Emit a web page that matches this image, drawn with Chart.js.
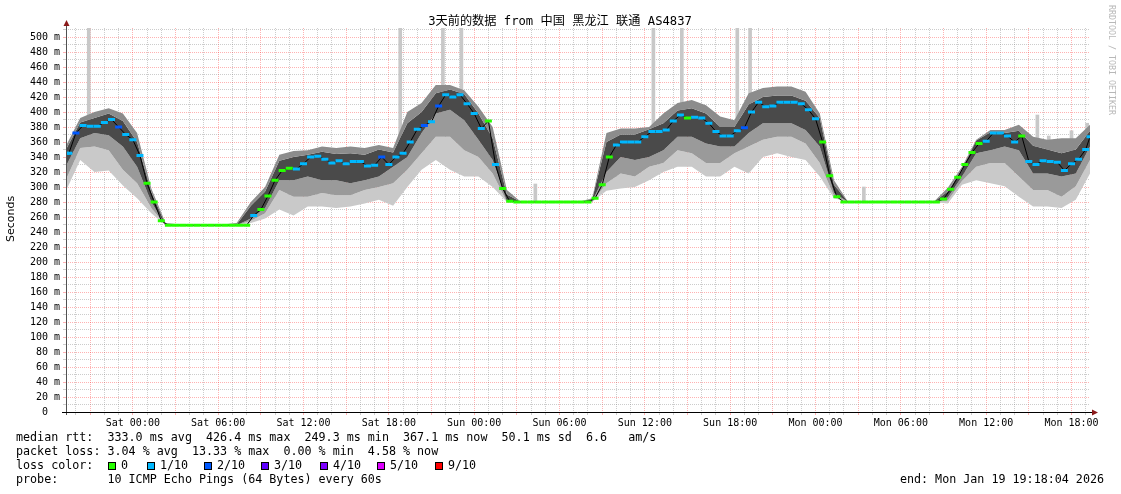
<!DOCTYPE html>
<html>
<head>
<meta charset="utf-8">
<title>SmokePing</title>
<script src="https://cdn.jsdelivr.net/npm/chart.js@4.4.1/dist/chart.umd.min.js"></script>
<style>
  html, body { margin: 0; padding: 0; background: #fff; }
  #wrap { width: 1121px; height: 494px; }
</style>
</head>
<body>
<div id="wrap"><canvas id="grafico" width="1121" height="494"></canvas></div>
<script>
// horas relativas a Sat 00:00 (início da janela = -4.7, fim = 67.3)
const tempoInicio = -4.7;
const tempoFim = 67.3;

// mediana a cada 30 min (primeiro e último ponto nas bordas da janela)
const medianaValores = [
  345,345,372,382,381,381,386,390,380,370,
  363,342,305,280,255,249,249,249,249,249,
  249,249,249,249,249,249,249,262,270,288,
  309,322,325,324,331,340,341,337,332,335,
  331,334,334,328,329,340,330,340,345,360,
  377,382,387,408,423,420,423,411,398,378,
  388,330,298,281,280,280,280,280,280,280,
  280,280,280,280,280,285,303,340,356,360,
  360,360,367,374,374,376,388,396,392,393,
  392,385,374,368,368,375,379,400,413,407,
  408,413,413,413,411,403,391,360,315,287,
  280,280,280,280,280,280,280,280,280,280,
  280,280,280,280,284,297,313,330,346,358,
  361,372,372,368,360,368,334,330,335,334,
  333,322,331,337,350,367
];
// perda por ponto (índice em corPerda)
const medianaPerda = [
  1,1,2,1,1,1,1,1,2,1,
  1,1,0,0,0,0,0,0,0,0,
  0,0,0,0,0,0,0,1,0,0,
  0,0,0,1,1,1,1,1,1,1,
  1,1,1,1,1,2,1,1,1,1,
  1,2,1,2,1,1,1,1,1,1,
  0,1,0,0,0,0,0,0,0,0,
  0,0,0,0,0,0,0,0,1,1,
  1,1,1,1,1,1,1,1,0,1,
  1,1,1,1,1,1,2,1,1,1,
  1,1,1,1,1,1,1,0,0,0,
  0,0,0,0,0,0,0,0,0,0,
  0,0,0,0,0,0,0,0,0,0,
  1,1,1,1,1,0,1,1,1,1,
  1,1,1,1,1,1
];

// fumaça (smoke) a cada hora, de -4.7 até 67.3
const fumacaMax = [355,392,400,405,398,372,298,252,250,250,250,250,252,280,300,343,348,349,354,352,354,352,356,352,400,412,436,436,429,407,380,296,280,280,280,280,280,285,372,378,378,380,398,412,416,409,394,389,425,432,434,434,427,398,309,280,280,280,280,280,280,280,299,327,363,376,376,383,367,363,365,365,383];
const fumacaAlta = [350,386,392,398,388,360,293,250,249,249,249,249,250,275,294,335,340,343,347,344,345,343,350,346,385,400,425,430,424,398,365,290,280,280,280,280,280,284,360,370,370,377,385,402,405,398,380,380,410,420,422,422,415,392,303,280,280,280,280,280,280,280,294,324,362,373,372,375,355,350,345,350,375];
const fumacaBaixa = [328,365,372,369,354,327,280,249,249,249,249,249,249,258,272,309,309,314,309,309,305,309,314,327,340,372,398,403,389,363,336,281,280,280,280,280,280,281,320,340,336,340,349,367,367,358,354,354,372,385,385,385,376,354,292,280,280,280,280,280,280,280,286,314,345,349,354,349,318,318,314,318,354];
const fumacaBaixa2 = [310,352,354,349,323,305,272,249,249,249,249,249,249,255,265,296,287,287,292,289,289,296,300,305,323,345,367,367,349,340,318,280,280,280,280,280,280,280,305,318,314,327,332,349,345,332,332,345,354,363,367,367,358,332,288,280,280,280,280,280,280,280,282,308,327,332,332,314,296,296,287,301,336];
const fumacaMin = [295,336,320,322,302,285,265,249,249,249,249,249,249,252,258,270,262,274,274,272,274,278,283,275,300,323,336,323,314,314,300,280,280,280,280,280,280,280,295,298,300,309,320,327,327,314,314,327,318,340,345,340,336,314,285,280,280,280,280,280,280,280,278,303,309,305,301,287,274,274,272,283,318];

// picos isolados (máximos)
const picoHoras = [-3.1, 18.8, 21.8, 23.1, 28.3, 36.6, 38.6, 42.5, 43.4, 51.4, 63.6, 64.4, 66.0, 67.1];
const picoBase  = [380, 340, 420, 420, 280, 374, 395, 375, 395, 280, 330, 334, 331, 350];
const picoTopo  = [512, 512, 512, 512, 304, 512, 512, 512, 512, 300, 396, 368, 375, 385];

// rótulos do eixo x
const horasRotulo = [0, 6, 12, 18, 24, 30, 36, 42, 48, 54, 60, 66];
const rotulosX = ['Sat 00:00','Sat 06:00','Sat 12:00','Sat 18:00','Sun 00:00','Sun 06:00',
                  'Sun 12:00','Sun 18:00','Mon 00:00','Mon 06:00','Mon 12:00','Mon 18:00'];

const corPerda = ['#26ff00', '#00b8ff', '#0059ff', '#5e00ff', '#7e00ff', '#dd00ff', '#ff0000'];
const rotulosPerda = ['0', '1/10', '2/10', '3/10', '4/10', '5/10', '9/10'];

const linhasTexto = [
  'median rtt:  333.0 ms avg  426.4 ms max  249.3 ms min  367.1 ms now  50.1 ms sd  6.6   am/s',
  'packet loss: 3.04 % avg  13.33 % max  0.00 % min  4.58 % now',
  'loss color:',
  'probe:       10 ICMP Echo Pings (64 Bytes) every 60s'
];
const titulo = '3天前的数据 from 中国 黑龙江 联通 AS4837';
const textoFim = 'end: Mon Jan 19 19:18:04 2026';

// montar pontos
const horasMediana = [tempoInicio];
for (let h = -4.5; h <= 67.0001; h += 0.5) horasMediana.push(h);
horasMediana.push(tempoFim);
const pontosMediana = medianaValores.map((v, i) => ({ x: horasMediana[i], y: v }));

const horasFumaca = fumacaMax.map((_, i) => tempoInicio + i);
const serie = arr => arr.map((v, i) => ({ x: horasFumaca[i], y: v }));

const horasGrade = [];
for (let h = -4; h <= 67; h++) horasGrade.push(h);
const valoresY = [];
for (let v = 0; v <= 510; v += 10) valoresY.push(v);

const GRADE_MAIOR = 'rgba(255,0,0,0.3)';
const GRADE_MENOR = 'rgba(128,128,128,0.4)';
const MONO = '"DejaVu Sans Mono", monospace';

const textoPlugin = {
  id: 'textoRrd',
  afterDraw(chart) {
    const c = chart.ctx;
    const a = chart.chartArea;
    c.save();

    // eixos
    c.lineWidth = 1;
    c.strokeStyle = '#505050';
    c.beginPath(); c.moveTo(a.left + 0.5, a.bottom + 3); c.lineTo(a.left + 0.5, 25); c.stroke();
    c.strokeStyle = '#000';
    c.beginPath(); c.moveTo(a.left - 4, a.bottom + 0.5); c.lineTo(1093, a.bottom + 0.5); c.stroke();
    c.fillStyle = '#8b1a1a';
    c.beginPath(); c.moveTo(a.left + 0.5, 20); c.lineTo(a.left - 2.5, 26); c.lineTo(a.left + 3.5, 26); c.closePath(); c.fill();
    c.beginPath(); c.moveTo(1098, a.bottom + 0.5); c.lineTo(1092, a.bottom - 2.5); c.lineTo(1092, a.bottom + 3.5); c.closePath(); c.fill();

    // título
    c.fillStyle = '#000';
    c.textBaseline = 'middle';
    c.textAlign = 'center';
    c.font = '12.2px "DejaVu Sans Mono", "Noto Sans CJK SC", monospace';
    c.fillText(titulo, 560, 22);

    // título do eixo y
    c.save();
    c.translate(11, 219);
    c.rotate(-Math.PI / 2);
    c.font = '11px "DejaVu Sans", sans-serif';
    c.fillText('Seconds', 0, 0);
    c.restore();

    // marca d'água
    c.save();
    c.translate(1111, 60);
    c.rotate(Math.PI / 2);
    c.fillStyle = '#b8b8b8';
    c.font = '8.3px ' + MONO;
    c.fillText('RRDTOOL / TOBI OETIKER', 0, 0);
    c.restore();

    // legenda
    c.textAlign = 'left';
    c.font = '11.7px ' + MONO;
    const ys = [438, 452, 466, 480];
    linhasTexto.forEach((t, i) => c.fillText(t, 16, ys[i]));
    const xsQuadrado = [108, 147, 204, 261, 320, 377, 435];
    corPerda.forEach((cor, i) => {
      const x = xsQuadrado[i];
      c.fillStyle = cor;
      c.fillRect(x, 462, 8, 8);
      c.strokeStyle = '#000';
      c.strokeRect(x + 0.5, 462.5, 7, 7);
      c.fillStyle = '#000';
      c.fillText(rotulosPerda[i], x + 13, 466);
    });
    c.textAlign = 'right';
    c.fillText(textoFim, 1104, 480);
    c.restore();
  }
};

const fumacaBase = { type: 'line', pointRadius: 0, borderWidth: 0, tension: 0 };

new Chart(document.getElementById('grafico'), {
  type: 'line',
  data: {
    datasets: [
      { ...fumacaBase, data: serie(fumacaMin), fill: false, order: 8 },
      { ...fumacaBase, data: serie(fumacaBaixa2), fill: '-1', backgroundColor: '#c9c9c9', order: 7 },
      { ...fumacaBase, data: serie(fumacaBaixa), fill: '-1', backgroundColor: '#9a9a9a', order: 6 },
      { ...fumacaBase, data: serie(fumacaAlta), fill: '-1', backgroundColor: '#4a4a4a', order: 5 },
      { ...fumacaBase, data: serie(fumacaMax), fill: '-1', backgroundColor: '#8c8c8c', order: 4 },
      {
        type: 'line', data: pontosMediana, borderColor: '#000', borderWidth: 1,
        pointRadius: 0, fill: false, tension: 0, order: 1
      },
      {
        type: 'line', data: pontosMediana, showLine: false, fill: false,
        pointStyle: 'line', pointRadius: 3.5, pointBorderWidth: 3,
        pointBorderColor: ctx => corPerda[medianaPerda[ctx.dataIndex]],
        order: 0
      },
      {
        type: 'bar', order: 9, grouped: false, barThickness: 3,
        backgroundColor: '#c8c8c8',
        data: picoHoras.map((h, i) => ({ x: h, y: [picoBase[i], picoTopo[i]] }))
      }
    ]
  },
  options: {
    responsive: false,
    animation: false,
    devicePixelRatio: 1,
    events: [],
    layout: { padding: { left: 0, right: 31, top: 28, bottom: 0 } },
    plugins: { legend: { display: false }, tooltip: { enabled: false } },
    scales: {
      x: {
        type: 'linear', min: tempoInicio, max: tempoFim, offset: false, z: 1,
        afterBuildTicks: s => { s.ticks = horasGrade.map(v => ({ value: v })); },
        afterFit: s => { s.height = 82; },
        grid: {
          offset: false, lineWidth: 1, tickLength: 3,
          color: ctx => (ctx.tick && ctx.tick.value % 3 === 0) ? GRADE_MAIOR : GRADE_MENOR,
          tickColor: ctx => (ctx.tick && ctx.tick.value % 3 === 0) ? GRADE_MAIOR : GRADE_MENOR
        },
        border: { display: false, dash: [1, 1] },
        ticks: {
          autoSkip: false, maxRotation: 0, padding: 2, color: '#000',
          font: { family: 'DejaVu Sans Mono', size: 10 },
          callback: v => { const k = horasRotulo.indexOf(v); return k >= 0 ? rotulosX[k] : ''; }
        }
      },
      y: {
        min: 0, max: 512, z: 1,
        afterBuildTicks: s => { s.ticks = valoresY.map(v => ({ value: v })); },
        afterFit: s => { s.width = 66; },
        grid: {
          lineWidth: 1, tickLength: 3,
          color: ctx => (ctx.tick && ctx.tick.value % 20 === 0) ? GRADE_MAIOR : GRADE_MENOR,
          tickColor: ctx => (ctx.tick && ctx.tick.value % 20 === 0) ? GRADE_MAIOR : GRADE_MENOR
        },
        border: { display: false, dash: [1, 1] },
        ticks: {
          autoSkip: false, padding: 3, color: '#000',
          font: { family: 'DejaVu Sans Mono', size: 10 },
          callback: v => v % 20 !== 0 ? '' : (v === 0 ? '0  ' : v + ' m')
        }
      }
    }
  },
  plugins: [textoPlugin]
});
</script>
</body>
</html>
